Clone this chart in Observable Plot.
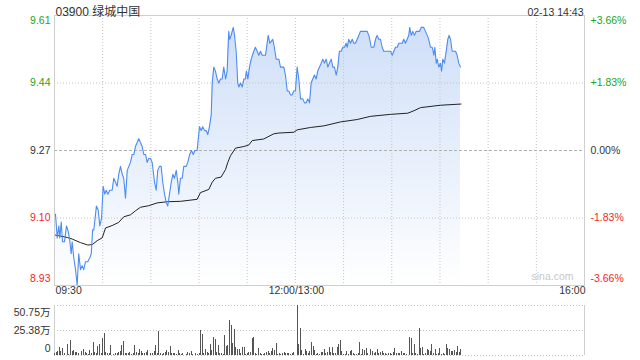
<!DOCTYPE html>
<html><head><meta charset="utf-8">
<script src="https://cdn.jsdelivr.net/npm/d3@7"></script>
<script src="https://cdn.jsdelivr.net/npm/@observablehq/plot@0.6"></script>
<style>
body{margin:0;background:#fff;}
#wrap{position:relative;width:640px;height:360px;overflow:hidden;}
#main{position:absolute;left:0;top:0;}
#vol{position:absolute;left:0;top:300px;}
</style></head><body><div id="wrap"><div id="main"></div><div id="vol"></div></div>
<script>
// ---- data ----
const title = "03900 绿城中国";
const stamp = "02-13 14:43";
const prevClose = 9.27;
const priceTicks = [9.61, 9.44, 9.27, 9.10, 8.93];
const pctLabels = ["+3.66%", "+1.83%", "0.00%", "-1.83%", "-3.66%"];
const timeTickMinutes = [0, 150, 330];          // trading minutes since 09:30
const timeTickLabels = ["09:30", "12:00/13:00", "16:00"];
const gridMinutes = [30, 60, 90, 120, 150, 180, 210, 240, 270, 300];
const volTicks = [50.75, 25.38, 0];
const volTickLabels = ["50.75万", "25.38万", "0"];
const watermark = "sina.com";

// [trading minute, price]
const pricePoints = [
[0.6,9.11],[1.7,9.05],[2.7,9.08],[3.3,9.05],[4.2,9.09],[5.0,9.04],[6.2,9.04],[7.5,9.08],[8.3,9.07],[9.3,9.05],
[10.4,9.01],[11.0,9.04],[12.0,9.00],[13.1,8.97],[14.1,8.93],[15.1,9.01],[16.2,8.97],[17.2,8.98],[18.2,8.97],[19.3,8.99],
[20.7,8.99],[22.0,9.00],[22.9,9.01],[23.7,9.07],[24.5,9.07],[25.3,9.10],[26.1,9.13],[27.2,9.12],[28.2,9.08],[29.3,9.10],
[30.3,9.18],[31.3,9.16],[32.2,9.17],[33.2,9.16],[34.4,9.17],[35.9,9.17],[36.9,9.20],[38.0,9.19],[39.0,9.18],[40.0,9.21],
[41.1,9.23],[42.2,9.21],[43.1,9.20],[44.2,9.15],[45.3,9.22],[46.3,9.23],[47.3,9.24],[48.4,9.26],[49.4,9.26],[50.4,9.28],
[51.5,9.29],[52.5,9.30],[53.5,9.29],[54.6,9.28],[55.6,9.26],[56.7,9.26],[57.7,9.24],[58.7,9.25],[59.8,9.25],[60.8,9.24],
[62.3,9.19],[63.3,9.17],[64.3,9.22],[65.4,9.23],[66.4,9.23],[67.4,9.19],[68.5,9.16],[69.5,9.14],[70.5,9.13],[71.6,9.16],
[72.7,9.19],[73.7,9.21],[74.7,9.20],[75.8,9.22],[76.8,9.19],[77.4,9.16],[78.4,9.20],[79.5,9.20],[80.5,9.23],[82.0,9.23],
[83.0,9.24],[84.2,9.26],[85.3,9.27],[86.4,9.26],[87.4,9.27],[88.8,9.27],[90.3,9.33],[91.3,9.32],[92.3,9.33],[93.4,9.32],
[94.5,9.32],[95.4,9.31],[96.5,9.33],[97.6,9.36],[98.2,9.44],[99.2,9.48],[100.2,9.47],[101.3,9.45],[102.3,9.44],[103.4,9.45],
[104.4,9.45],[105.4,9.48],[106.5,9.45],[107.5,9.47],[108.5,9.57],[109.1,9.55],[110.0,9.56],[111.3,9.58],[112.1,9.56],[113.1,9.52],
[114.1,9.44],[114.8,9.43],[115.8,9.44],[116.9,9.43],[117.9,9.45],[118.9,9.45],[119.5,9.47],[120.4,9.45],[121.4,9.48],[122.5,9.50],
[124.1,9.52],[125.1,9.53],[126.2,9.52],[127.2,9.51],[128.3,9.52],[129.3,9.51],[131.4,9.51],[132.4,9.54],[133.1,9.56],[134.1,9.54],
[135.9,9.55],[136.9,9.53],[138.0,9.50],[139.7,9.50],[140.7,9.48],[142.8,9.48],[143.8,9.46],[144.9,9.42],[145.9,9.42],[146.9,9.41],
[148.0,9.41],[149.0,9.42],[150.0,9.42],[151.1,9.48],[152.1,9.45],[153.2,9.40],[154.6,9.40],[155.7,9.39],[156.7,9.39],[157.7,9.40],
[158.8,9.39],[159.8,9.44],[160.8,9.45],[161.9,9.46],[162.9,9.45],[163.9,9.47],[165.0,9.48],[166.1,9.49],[167.1,9.50],[168.1,9.49],
[169.2,9.50],[170.2,9.48],[171.2,9.49],[172.3,9.50],[173.3,9.48],[174.3,9.48],[175.4,9.46],[176.4,9.48],[177.4,9.52],[178.5,9.52],
[179.5,9.53],[180.6,9.53],[181.6,9.54],[182.3,9.53],[183.2,9.55],[184.3,9.54],[185.4,9.55],[186.4,9.54],[187.4,9.54],[188.5,9.55],
[189.5,9.56],[190.5,9.57],[192.6,9.57],[194.7,9.57],[195.7,9.56],[196.3,9.55],[197.2,9.53],[198.8,9.53],[199.9,9.55],[200.9,9.56],
[201.9,9.55],[203.0,9.55],[204.0,9.53],[205.0,9.52],[208.1,9.52],[209.2,9.52],[210.3,9.51],[211.3,9.52],[212.3,9.53],[213.4,9.53],
[214.4,9.54],[216.5,9.54],[217.5,9.55],[218.5,9.54],[219.6,9.55],[220.6,9.56],[221.2,9.58],[222.1,9.56],[223.1,9.57],[224.1,9.56],
[225.2,9.57],[227.3,9.57],[228.3,9.58],[229.9,9.58],[231.0,9.57],[232.1,9.56],[233.0,9.55],[234.1,9.53],[235.2,9.53],[236.2,9.51],
[236.8,9.53],[237.7,9.49],[238.3,9.50],[239.3,9.48],[240.3,9.49],[241.0,9.47],[241.8,9.50],[242.8,9.49],[243.9,9.52],[244.9,9.55],
[245.7,9.56],[246.6,9.55],[247.6,9.52],[249.7,9.52],[250.7,9.51],[251.7,9.49],[252.8,9.48]
];

// [trading minute, average price]
const avgPoints = [
[0.6,9.057],[7.9,9.051],[11,9.047],[16.2,9.038],[20.7,9.032],[23.5,9.033],[26.6,9.043],[29.7,9.050],[31.8,9.075],[35.9,9.081],
[40,9.089],[43.1,9.103],[47.3,9.108],[50.4,9.118],[53.5,9.127],[58.7,9.131],[63.9,9.138],[70.2,9.141],[78.5,9.142],[88.8,9.147],
[90.9,9.164],[96.1,9.172],[98.2,9.190],[100.2,9.200],[103.7,9.203],[106.5,9.222],[107.9,9.240],[109.6,9.257],[112.7,9.276],[117.9,9.280],
[121,9.284],[123.1,9.295],[130.3,9.299],[136.5,9.312],[139.7,9.314],[149,9.316],[151.1,9.322],[159.4,9.328],[167.7,9.332],[178.1,9.342],
[188.5,9.348],[196.7,9.356],[209.2,9.361],[220,9.364],[223.7,9.370],[227.9,9.378],[240.3,9.384],[253.1,9.387]
];

// [trading minute, volume in 万]
const volumeBars = [
[0,2.4],[1,3.4],[2,4.4],[3,7.8],[4,4.4],[5,6.8],[6,1.7],[8,11.2],[9,0.7],[10,15.2],[11,4.4],[12,5.1],[13,2.7],[14,3.4],[15,2.4],
[17,4.4],[18,5.8],[19,3.4],[20,1.7],[21,1.0],[22,5.1],[23,1.7],[24,13.2],[25,2.7],[26,1.7],[27,9.1],[28,11.2],[29,1.7],[30,16.9],
[31,22.0],[32,2.7],[33,1.7],[34,2.4],[35,10.1],[37,1.0],[38,1.7],[39,2.4],[40,3.4],[41,4.4],[42,10.1],[43,14.5],[44,2.4],[45,1.7],
[46,2.4],[47,3.4],[48,1.0],[49,1.7],[50,10.1],[51,3.4],[52,1.7],[53,5.8],[54,4.4],[55,1.7],[56,2.4],[57,3.4],[58,5.1],[60,1.7],
[61,2.4],[62,4.4],[63,10.1],[64,1.7],[65,24.4],[66,1.7],[67,1.0],[68,1.7],[69,3.4],[70,5.1],[71,3.4],[72,9.1],[73,2.4],[74,1.7],
[75,2.4],[76,0.7],[77,5.1],[78,1.7],[79,1.0],[80,2.4],[82,0.7],[83,3.4],[84,1.7],[85,4.4],
[86,1.0],[88,1.7],[89,1.0],[90,1.7],[91,25.4],[92,21.3],[93,2.4],[94,5.8],[95,3.4],[96,2.4],[97,11.2],[98,5.1],[99,17.9],[100,15.9],
[101,3.4],[102,9.8],[103,2.4],[104,1.7],[105,1.0],[106,20.3],[107,9.1],[108,10.1],[109,35.5],[110,30.4],[111,11.8],[112,26.0],
[113,8.5],[114,6.1],[115,5.8],[116,1.7],[117,7.8],[118,7.8],[119,1.0],[120,1.7],[121,2.7],[122,3.4],[123,16.9],[124,17.9],[125,2.4],
[126,1.0],[127,6.8],[128,1.7],[129,0.7],[130,1.0],[131,1.7],[132,3.4],[133,4.4],[134,1.7],[135,4.4],[136,7.4],[137,5.1],[138,12.5],
[139,1.0],[140,1.7],[141,0.7],[142,1.7],[143,3.4],[144,2.4],[145,2.4],[146,1.7],[147,1.0],[148,1.7],[149,3.4],
[151,50.75],[152,11.2],[153,27.1],[154,5.1],[155,1.0],[156,5.8],[157,4.4],[158,1.7],[159,4.4],[160,13.5],[161,9.1],[162,5.1],
[163,1.0],[164,2.4],[165,1.0],[166,3.4],[167,3.4],[168,5.8],[169,1.7],[170,2.7],[171,8.5],
[172,3.4],[173,8.5],[174,2.4],[175,2.4],[176,8.5],[177,11.2],[178,15.2],[179,4.4],[180,0.7],[181,1.0],[182,4.1],[183,1.0],[184,4.1],
[185,5.1],[186,1.7],[187,0.7],[188,1.0],[189,1.7],[190,13.5],[191,1.0],[192,5.8],[193,5.1],[194,6.8],[195,1.7],[197,5.8],[198,4.4],
[199,1.7],[200,3.4],[201,5.8],[202,1.7],[203,3.4],[204,4.1],[205,2.4],[206,1.7],[207,1.0],[208,1.7],[209,2.4],[210,1.0],[211,3.4],
[212,6.8],[213,2.4],[214,1.7],[215,1.7],[216,4.1],[217,1.7],[218,2.4],[219,1.0],[221,18.6],[222,17.0],[223,1.7],[224,11.2],[225,2.4],
[226,1.0],[227,27.1],[228,6.8],[229,8.5],[230,1.0],[231,2.4],[232,5.8],[233,5.1],[234,4.4],[235,11.2],[236,2.4],[237,5.8],[238,1.0],
[239,1.7],[240,6.8],[241,1.0],[242,1.7],[243,1.0],[244,11.2],[245,6.8],[246,5.8],[247,4.4],[248,4.4],[249,5.1],[250,3.4],[251,9.1],
[252,3.4],[253,5.8]
];

// ---- drawing ----
const FONT = "'Liberation Sans', 'Noto Sans CJK SC', Arial, sans-serif";
const GREEN = "#1aa51a", RED = "#f0282a", DARK = "#333";
const xDomain = [timeTickMinutes[0], timeTickMinutes[timeTickMinutes.length - 1]];
const yDomain = [d3.min(priceTicks), d3.max(priceTicks)];
const tickColor = v => v > prevClose + 1e-9 ? GREEN : (v < prevClose - 1e-9 ? RED : DARK);
const innerTicks = priceTicks.filter(v => v !== yDomain[0] && v !== yDomain[1]);
const gridPrices = innerTicks.filter(v => v !== prevClose);

const gradientDefs = () => {
  const defs = d3.create("svg:defs");
  const g = defs.append("linearGradient").attr("id", "priceFill")
    .attr("x1", 0).attr("y1", 0).attr("x2", 0).attr("y2", 1);
  g.append("stop").attr("offset", "0%").attr("stop-color", "#cfdff8");
  g.append("stop").attr("offset", "100%").attr("stop-color", "#ffffff");
  return defs.node();
};

const idx = priceTicks.map((v, i) => i);
const main = Plot.plot({
  width: 640, height: 300,
  marginLeft: 54, marginRight: 56, marginTop: 15, marginBottom: 15,
  x: {domain: xDomain, axis: null},
  y: {domain: yDomain, axis: null},
  style: {fontFamily: FONT, fontSize: "10.5px", background: "white", overflow: "visible"},
  marks: [
    gradientDefs,
    Plot.areaY(pricePoints, {x: d => d[0], y1: yDomain[0], y2: d => d[1], fill: "url(#priceFill)"}),
    Plot.ruleX(gridMinutes, {stroke: "#c4c4c4", strokeDasharray: "1,2"}),
    Plot.ruleY(gridPrices, {stroke: "#c4c4c4", strokeDasharray: "1,2"}),
    Plot.ruleY([prevClose], {stroke: "#b0b0b0", strokeDasharray: "3,2"}),
    Plot.line(avgPoints, {x: d => d[0], y: d => d[1], stroke: "#222", strokeWidth: 1}),
    Plot.line(pricePoints, {x: d => d[0], y: d => d[1], stroke: "#4d8cf0", strokeWidth: 1.1}),
    Plot.frame({stroke: "#cfcfcf"}),
    // left price labels
    Plot.text(innerTicks, {y: d => d, frameAnchor: "left", textAnchor: "end", dx: -4, text: d => d.toFixed(2), fill: d => tickColor(d)}),
    Plot.text([yDomain[1]], {y: d => d, frameAnchor: "left", textAnchor: "end", dx: -4, dy: 5, text: d => d.toFixed(2), fill: d => tickColor(d)}),
    Plot.text([yDomain[0]], {y: d => d, frameAnchor: "left", textAnchor: "end", dx: -4, dy: -7, text: d => d.toFixed(2), fill: d => tickColor(d)}),
    // right percent labels
    Plot.text(idx.slice(1, -1), {y: i => priceTicks[i], frameAnchor: "right", textAnchor: "start", dx: 6, text: i => pctLabels[i], fill: i => tickColor(priceTicks[i])}),
    Plot.text([0], {y: i => priceTicks[i], frameAnchor: "right", textAnchor: "start", dx: 6, dy: 5, text: i => pctLabels[i], fill: i => tickColor(priceTicks[i])}),
    Plot.text([priceTicks.length - 1], {y: i => priceTicks[i], frameAnchor: "right", textAnchor: "start", dx: 6, dy: -7, text: i => pctLabels[i], fill: i => tickColor(priceTicks[i])}),
    // time labels
    Plot.text([0], {x: i => timeTickMinutes[i], frameAnchor: "bottom", textAnchor: "start", dx: 1, dy: 8, text: i => timeTickLabels[i], fill: DARK}),
    Plot.text([1], {x: i => timeTickMinutes[i], frameAnchor: "bottom", textAnchor: "middle", dx: 1, dy: 8, text: i => timeTickLabels[i], fill: DARK}),
    Plot.text([2], {x: i => timeTickMinutes[i], frameAnchor: "bottom", textAnchor: "end", dx: 1, dy: 8, text: i => timeTickLabels[i], fill: DARK}),
    // title, timestamp, watermark
    Plot.text([title], {frameAnchor: "top-left", textAnchor: "start", dx: 1, dy: -8, text: d => d, fill: DARK, fontSize: 12}),
    Plot.text([stamp], {frameAnchor: "top-right", textAnchor: "end", dx: -1, dy: -7, text: d => d, fill: DARK}),
    Plot.text([watermark], {frameAnchor: "bottom-right", textAnchor: "end", dx: -11, dy: -6, text: d => d, fill: "#c8c8c8", fontSize: 10.5})
  ]
});
document.getElementById("main").append(main);

const volMax = volTicks[0];
const vol = Plot.plot({
  width: 640, height: 60,
  marginLeft: 54, marginRight: 56, marginTop: 5, marginBottom: 5,
  x: {domain: xDomain, axis: null},
  y: {domain: [0, volMax], axis: null},
  style: {fontFamily: FONT, fontSize: "10.5px", background: "white", overflow: "visible"},
  marks: [
    Plot.ruleY(volTicks, {stroke: "#c4c4c4", strokeDasharray: "1,2"}),
    Plot.ruleX(xDomain, {y1: 0, y2: volMax, stroke: "#cfcfcf"}),
    Plot.ruleX(volumeBars, {x: d => d[0], y1: 0, y2: d => d[1], stroke: "#555", strokeWidth: 1, shapeRendering: "crispEdges"}),
    Plot.text([1], {y: i => volTicks[i], frameAnchor: "left", textAnchor: "end", dx: -4, text: i => volTickLabels[i], fill: DARK}),
    Plot.text([0], {y: i => volTicks[i], frameAnchor: "left", textAnchor: "end", dx: -4, dy: 7, text: i => volTickLabels[i], fill: DARK}),
    Plot.text([2], {y: i => volTicks[i], frameAnchor: "left", textAnchor: "end", dx: -4, dy: -7, text: i => volTickLabels[i], fill: DARK})
  ]
});
document.getElementById("vol").append(vol);
</script></body></html>
